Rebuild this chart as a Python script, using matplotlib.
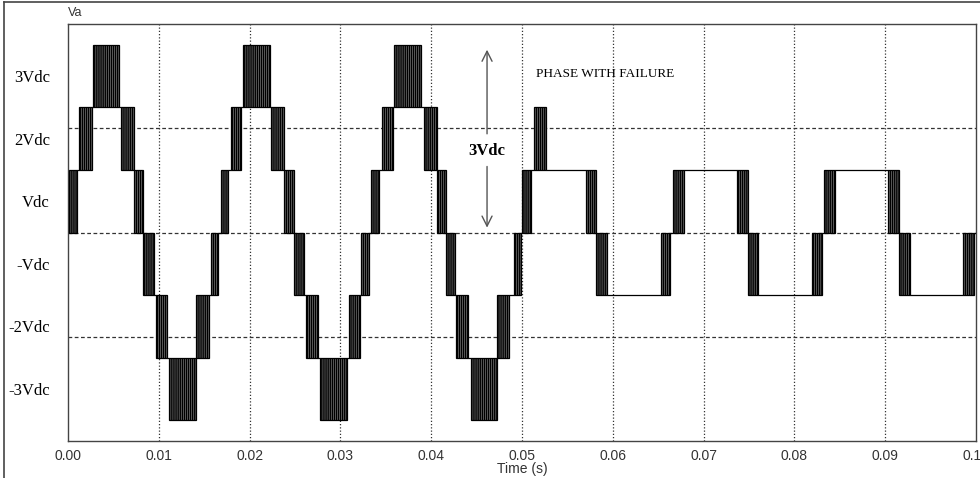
import numpy as np
import matplotlib
matplotlib.use("Agg")
import matplotlib.pyplot as plt
from matplotlib.lines import Line2D

# 1 Vdc = 60 V, axis runs -200 .. 200 V
vdc = 60.0

# switching bands: start, end (s), lower level (in Vdc),
# and the level held after the band until the next band starts
band_start = [0.0001, 0.0012, 0.0027, 0.0058, 0.0073, 0.0083, 0.0097, 0.0111, 0.0141, 0.0157, 0.0168,
              0.0179, 0.0193, 0.0224, 0.0238, 0.0249, 0.0262, 0.0277, 0.0309, 0.0323, 0.0334,
              0.0346, 0.0359, 0.0392, 0.0406, 0.0416, 0.0427, 0.0444, 0.0473, 0.0491, 0.0500,
              0.0513, 0.0571, 0.0582, 0.0653, 0.0666, 0.0737, 0.0749, 0.0819, 0.0833, 0.0903,
              0.0915, 0.0986]
band_end = [0.0010, 0.0026, 0.0056, 0.0073, 0.0083, 0.0095, 0.0109, 0.0141, 0.0155, 0.0165, 0.0176,
            0.0191, 0.0223, 0.0238, 0.0249, 0.0260, 0.0275, 0.0307, 0.0322, 0.0332, 0.0343,
            0.0358, 0.0389, 0.0406, 0.0416, 0.0426, 0.0441, 0.0473, 0.0486, 0.0499, 0.0510,
            0.0526, 0.0582, 0.0594, 0.0663, 0.0678, 0.0749, 0.0760, 0.0830, 0.0845, 0.0915,
            0.0927, 0.0998]
band_low = [0, 1, 2, 1, 0, -1, -2, -3, -2, -1, 0,
            1, 2, 1, 0, -1, -2, -3, -2, -1, 0,
            1, 2, 1, 0, -1, -2, -3, -2, -1, 0,
            1, 0, -1, -1, 0, 0, -1, -1, 0, 0,
            -1, -1]
level_after = [1, 2, 2, 1, 0, -1, -2, -2, -1, 0, 1,
               2, 2, 1, 0, -1, -2, -2, -1, 0, 1,
               2, 2, 1, 0, -1, -2, -2, -1, 0, 1,
               1, 0, -1, 0, 1, 0, -1, 0, 1, 0,
               -1, 0]

ytick_pos = [150, 90, 30, -30, -90, -150]
ytick_lab = ["3Vdc", "2Vdc", "Vdc", "-Vdc", "-2Vdc", "-3Vdc"]
xticks = [0.00, 0.01, 0.02, 0.03, 0.04, 0.05, 0.06, 0.07, 0.08, 0.09, 0.10]

plt.rcParams["hatch.linewidth"] = 1.1

fig = plt.figure(figsize=(9.8, 4.78), dpi=100)
ax = fig.add_axes([68 / 980, 37 / 478, 908 / 980, 417 / 478])

# grid: dotted vertical, dashed horizontal
for t in xticks[1:-1]:
    ax.axvline(t, color="#333333", lw=0.9, ls=(0, (1, 1.6)), zorder=1)
for v in [-100, 0, 100]:
    ax.axhline(v, color="#333333", lw=0.9, ls=(0, (3, 2)), zorder=1)

# PWM switching bands
bs = np.array(band_start)
be = np.array(band_end)
bl = np.array(band_low) * vdc
ax.bar(bs, vdc, width=be - bs, bottom=bl, align="edge", facecolor="#9a9a9a",
       edgecolor="black", hatch="||||||||", linewidth=0.9, zorder=3)

# flat parts between bands
next_start = np.append(bs[1:], 0.1)
ax.hlines(np.array(level_after) * vdc, be, next_start, colors="black", lw=0.9, zorder=3)

ax.set_xlim(0, 0.1)
ax.set_ylim(-200, 200)
ax.set_xticks(xticks)
ax.set_xticklabels(["%.2f" % t for t in xticks], family="Liberation Sans", fontsize=10, color="#333333")
ax.set_yticks(ytick_pos)
ax.set_yticklabels(ytick_lab, family="Liberation Serif", fontsize=12)
ax.tick_params(axis="both", length=0)
ax.tick_params(axis="y", pad=13)
ax.tick_params(axis="x", pad=6)
ax.set_xlabel("Time (s)", family="Liberation Sans", fontsize=10, color="#333333", labelpad=-1)
for s in ax.spines.values():
    s.set_color("#444444")
    s.set_linewidth(1.0)

# annotation: 3Vdc double arrow
xa = 0.04615
ax.annotate("", xy=(xa, 178), xytext=(xa, 92),
            arrowprops=dict(arrowstyle="->", color="#555555", lw=1.0, mutation_scale=18))
ax.annotate("", xy=(xa, 2), xytext=(xa, 66),
            arrowprops=dict(arrowstyle="->", color="#555555", lw=1.0, mutation_scale=18))
ax.text(xa, 78, "3Vdc", ha="center", va="center", family="Liberation Serif",
        fontsize=12, fontweight="bold")
ax.text(0.0515, 152, "PHASE WITH FAILURE", ha="left", va="center",
        family="Liberation Serif", fontsize=9.5)

fig.text(68 / 980, 1 - 13 / 478, "Va", ha="left", va="center",
         family="Liberation Sans", fontsize=9, color="#333333")

# outer frame of the original screenshot
fig.add_artist(Line2D([4 / 980, 4 / 980], [0, 1 - 1.5 / 478], color="#444444", lw=1.2))
fig.add_artist(Line2D([4 / 980, 1], [1 - 1.5 / 478, 1 - 1.5 / 478], color="#444444", lw=1.2))

fig.savefig("out.png", dpi=100)
